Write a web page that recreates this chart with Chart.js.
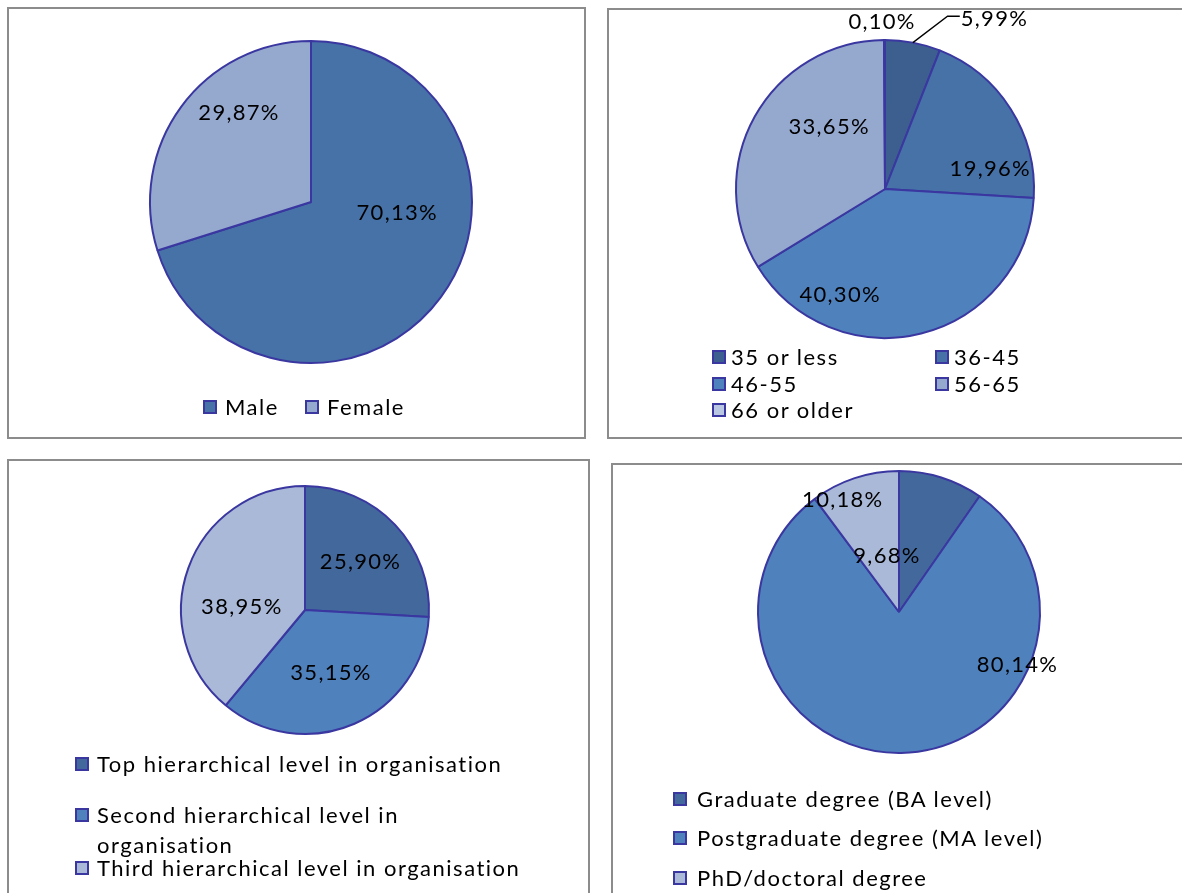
<!DOCTYPE html>
<html>
<head>
<meta charset="utf-8">
<script src="https://cdn.jsdelivr.net/npm/chart.js@4.4.1/dist/chart.umd.min.js"></script>
<style>
  html, body { margin: 0; padding: 0; background: #fff; }
  body { position: relative; width: 1182px; height: 893px; overflow: hidden; font-family: Lato, "Open Sans", sans-serif; }
  .panel { position: absolute; border: 2px solid #8c8c8c; box-sizing: border-box; background: #fff; }
  .cv { position: absolute; left: 0; top: 0; pointer-events: none; }
  .lg { position: absolute; color: #000; font-size: 22px; letter-spacing: 1.5px; white-space: nowrap; }
  .lg .sw { position: absolute; width: 14px; height: 14px; box-sizing: border-box; border: 2px solid #3a37a0; }
  .lg .tx { position: absolute; line-height: 30px; }
</style>
</head>
<body>
<script>
// ---------------- DATA ----------------
const genderLabels = ['Male', 'Female'];
const genderValues = [70.13, 29.87];

const ageLabels = ['35 or less', '36-45', '46-55', '56-65', '66 or older'];
const ageValues = [5.99, 19.96, 40.30, 33.65, 0.10];

const levelLabels = [
  'Top hierarchical level in organisation',
  ['Second hierarchical level in', 'organisation'],
  'Third hierarchical level in organisation'
];
const levelValues = [25.90, 35.15, 38.95];

const degreeLabels = ['Graduate degree (BA level)', 'Postgraduate degree (MA level)', 'PhD/doctoral degree'];
const degreeValues = [9.68, 80.14, 10.18];

// ---------------- STYLE / LAYOUT ----------------
const W = 1182, H = 893;
const EDGE = '#3a37a0';

const charts = [
  {
    labels: genderLabels, values: genderValues,
    colors: ['#4672a7', '#95a9cf'],
    panel: [7, 7, 579, 432],
    cx: 311, cy: 202, r: 161,
    labelPolar: [[7, 0.54], [231, 0.71]],
    legend: { gap: 22, items: [[203, 407], [305, 407]] }
  },
  {
    labels: ageLabels, values: ageValues,
    colors: ['#3d5f8f', '#4672a8', '#4f81bd', '#95a9cf', '#b9c7e3'],
    panel: [607, 8, 600, 431],
    cx: 885, cy: 189, r: 149,
    labelPolar: [[-57.3, 1.36], [-11, 0.72], [113, 0.77], [228, 0.56], [-91, 1.12]],
    leader: { index: 0, elbow: [-70.1, 1.233] },
    legend: { gap: 19, items: [[712, 357], [935, 357], [712, 384], [935, 384], [712, 410]] }
  },
  {
    labels: levelLabels, values: levelValues,
    colors: ['#43699c', '#4f81bd', '#aab9d7'],
    panel: [7, 459, 583, 460],
    cx: 305, cy: 610, r: 124,
    labelPolar: [[-40.6, 0.59], [67.6, 0.55], [182.7, 0.51]],
    legend: { gap: 22, items: [[75, 764], [75, 815], [75, 868]] }
  },
  {
    labels: degreeLabels, values: degreeValues,
    colors: ['#43699c', '#4f81bd', '#aab9d7'],
    panel: [611, 463, 600, 460],
    cx: 899, cy: 612, r: 141,
    labelPolar: [[-102, 0.41], [24, 0.92], [-116.6, 0.89]],
    legend: { gap: 24, items: [[673, 799], [673, 838], [673, 878]] }
  }
];

const fmt = v => v.toFixed(2).replace('.', ',') + '%';

const labelPlugin = {
  id: 'pieLabels',
  afterDatasetsDraw(chart, args, opts) {
    const cfg = opts.cfg;
    const ctx = chart.ctx;
    const meta = chart.getDatasetMeta(0);
    const ds = chart.data.datasets[0];
    ctx.save();
    ctx.font = '22px Lato, "Open Sans", sans-serif';
    if ('letterSpacing' in ctx) ctx.letterSpacing = '1.3px';
    ctx.fillStyle = '#000';
    ctx.textAlign = 'center';
    ctx.textBaseline = 'middle';
    meta.data.forEach((arc, i) => {
      const [deg, f] = cfg.labelPolar[i];
      const a = deg * Math.PI / 180;
      const x = arc.x + Math.cos(a) * f * arc.outerRadius;
      const y = arc.y + Math.sin(a) * f * arc.outerRadius;
      const txt = fmt(ds.data[i]);
      ctx.fillText(txt, x, y);
      if (cfg.leader && cfg.leader.index === i) {
        const mid = (arc.startAngle + arc.endAngle) / 2;
        const sx = arc.x + Math.cos(mid) * arc.outerRadius;
        const sy = arc.y + Math.sin(mid) * arc.outerRadius;
        const ea = cfg.leader.elbow[0] * Math.PI / 180;
        const ex = arc.x + Math.cos(ea) * cfg.leader.elbow[1] * arc.outerRadius;
        const ey = arc.y + Math.sin(ea) * cfg.leader.elbow[1] * arc.outerRadius;
        const tw = ctx.measureText(txt).width;
        ctx.beginPath();
        ctx.strokeStyle = '#000';
        ctx.lineWidth = 1.3;
        ctx.moveTo(sx, sy);
        ctx.lineTo(ex, ey);
        ctx.lineTo(x - tw / 2 - 1, ey);
        ctx.stroke();
      }
    });
    ctx.restore();
  }
};

charts.forEach(cfg => {
  const p = document.createElement('div');
  p.className = 'panel';
  p.style.left = cfg.panel[0] + 'px';
  p.style.top = cfg.panel[1] + 'px';
  p.style.width = cfg.panel[2] + 'px';
  p.style.height = cfg.panel[3] + 'px';
  document.body.appendChild(p);
});

charts.forEach((cfg, k) => {
  const c = document.createElement('canvas');
  c.className = 'cv';
  c.width = W; c.height = H;
  c.style.width = W + 'px'; c.style.height = H + 'px';
  c.style.zIndex = 2;
  document.body.appendChild(c);

  new Chart(c, {
    type: 'pie',
    data: {
      labels: cfg.labels,
      datasets: [{
        data: cfg.values,
        backgroundColor: cfg.colors,
        borderColor: EDGE,
        borderWidth: 2,
        hoverOffset: 0
      }]
    },
    options: {
      responsive: false,
      animation: false,
      devicePixelRatio: 1,
      radius: cfg.r,
      layout: {
        padding: {
          left: cfg.cx - cfg.r,
          top: cfg.cy - cfg.r,
          right: W - (cfg.cx + cfg.r),
          bottom: H - (cfg.cy + cfg.r)
        }
      },
      plugins: {
        legend: { display: false },
        tooltip: { enabled: false },
        pieLabels: { cfg }
      }
    },
    plugins: [labelPlugin]
  });

  // HTML legend built from the same category/colour arrays
  cfg.labels.forEach((lab, i) => {
    const [x, y] = cfg.legend.items[i];
    const it = document.createElement('div');
    it.className = 'lg';
    it.style.left = x + 'px';
    it.style.top = (y - 15) + 'px';
    it.style.zIndex = 3;
    const sw = document.createElement('div');
    sw.className = 'sw';
    sw.style.left = '0px';
    sw.style.top = '8px';
    sw.style.background = cfg.colors[i];
    const tx = document.createElement('div');
    tx.className = 'tx';
    tx.style.left = cfg.legend.gap + 'px';
    tx.style.top = '0px';
    tx.innerHTML = Array.isArray(lab) ? lab.join('<br>') : lab;
    it.appendChild(sw);
    it.appendChild(tx);
    document.body.appendChild(it);
  });
});
</script>
</body>
</html>
